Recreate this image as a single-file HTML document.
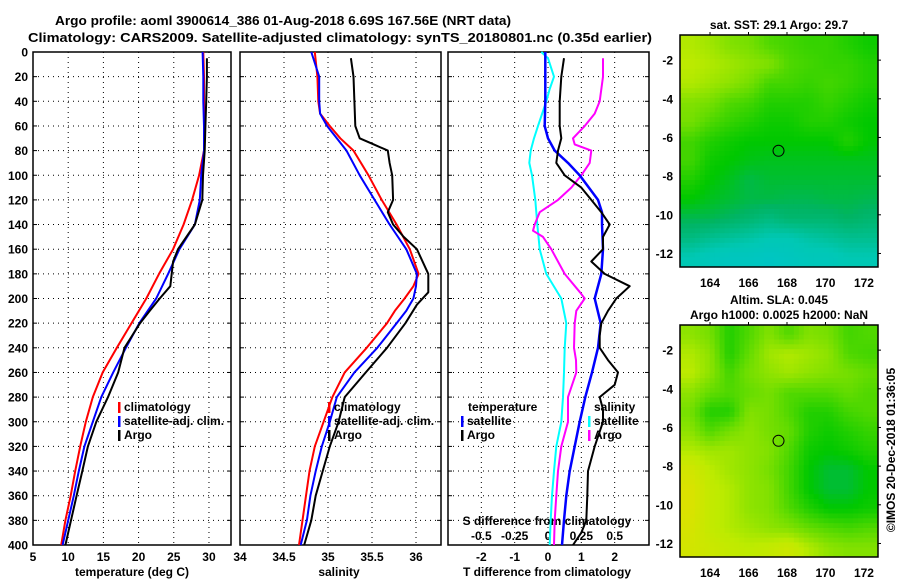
<!DOCTYPE html>
<html><head><meta charset="utf-8">
<style>
html,body{margin:0;padding:0;background:#fff;}
svg{display:block;font-family:"Liberation Sans",sans-serif;font-weight:bold;}
</style></head>
<body>
<svg id="fig" width="900" height="580" viewBox="0 0 900 580" xmlns="http://www.w3.org/2000/svg">
<text x="283" y="25" text-anchor="middle" font-size="13" textLength="456" lengthAdjust="spacingAndGlyphs">Argo profile: aoml 3900614_386 01-Aug-2018 6.69S 167.56E (NRT data)</text>
<text x="340" y="42" text-anchor="middle" font-size="13" textLength="624" lengthAdjust="spacingAndGlyphs">Climatology: CARS2009. Satellite-adjusted climatology: synTS_20180801.nc (0.35d earlier)</text>
<g id="plots"></g>
</svg>
<script>
// ---- data ----
const depthT = [0,20,40,60,80,100,120,140,160,180,200,220,240,260,280,300,320,340,360,380,400];
const tempClim = [29.2,29.3,29.3,29.3,29.3,28.6,27.6,26.4,24.9,22.9,21.1,19.0,16.9,14.9,13.5,12.5,11.7,11.0,10.35,9.6,9.0];
const tempSat  = [29.1,29.2,29.2,29.3,29.3,28.9,28.7,28.0,25.8,24.2,22.5,20.1,18.2,16.4,14.7,13.5,12.3,11.5,10.8,10.0,9.2];
const depthArgoT = [5,20,40,60,80,100,120,140,160,170,180,190,200,210,220,240,260,280,300,320,340,360,380,400];
const tempArgo = [29.7,29.7,29.6,29.5,29.4,29.15,29.05,28.0,25.6,24.9,24.7,24.5,23.0,21.6,20.2,18.0,17.1,15.65,14.0,12.8,12.0,11.2,10.4,9.6];
const depthS = [0,20,40,50,60,70,80,100,120,140,160,180,190,200,210,220,240,260,280,300,320,340,360,380,400];
const salClim = [34.85,34.88,34.89,34.91,35.02,35.14,35.29,35.46,35.61,35.78,35.93,36.03,35.97,35.87,35.76,35.67,35.44,35.19,35.05,34.95,34.85,34.79,34.75,34.71,34.67];
const salSat  = [34.81,34.90,34.90,34.91,34.99,35.10,35.21,35.36,35.53,35.70,35.89,36.01,36.0,35.97,35.89,35.78,35.56,35.30,35.10,35.02,34.93,34.86,34.80,34.76,34.69];
const depthArgoS = [5,20,40,60,70,75,80,90,100,120,130,140,150,160,180,195,205,220,240,260,280,300,320,340,360,380,400];
const salArgo = [35.26,35.29,35.30,35.31,35.36,35.52,35.68,35.70,35.73,35.74,35.68,35.74,35.86,36.01,36.14,36.14,36.01,35.88,35.67,35.43,35.19,35.12,35.02,34.94,34.86,34.81,34.73];
const depthD = [0,20,40,60,70,80,90,100,120,130,140,160,180,200,220,240,260,280,300,320,340,360,380,400];
const dTsat = [-0.08,-0.08,-0.08,-0.1,0.0,0.2,0.6,0.95,1.5,1.62,1.62,1.65,1.6,1.4,1.58,1.5,1.32,1.12,0.95,0.8,0.65,0.55,0.48,0.42];
const depthDTA = [5,20,40,60,70,80,90,100,110,120,130,140,150,160,170,180,190,200,210,220,230,240,250,260,270,280,290,300,320,340,360,380,390,400];
const dTargo = [0.48,0.4,0.35,0.35,0.4,0.3,0.25,0.5,1.0,1.3,1.6,1.85,1.65,1.65,1.3,1.7,2.45,2.05,1.8,1.6,1.55,1.55,1.8,2.1,2.0,1.55,1.65,1.65,1.4,1.2,1.18,1.15,1.0,0.75];
const depthDS = [0,5,20,30,40,60,70,80,90,100,120,140,160,180,200,220,240,260,280,300,320,340,360,380,400];
const dSsat = [-0.05,0.0,0.045,0.0125,-0.0125,-0.075,-0.105,-0.13,-0.14,-0.12,-0.095,-0.08,-0.0625,-0.0125,0.1,0.1375,0.125,0.12,0.1125,0.1,0.0625,0.045,0.03,0.02,0.0125];
const depthDSA = [5,20,40,50,60,70,75,80,90,100,110,120,130,140,145,150,160,180,195,200,210,220,240,250,260,280,300,320,340,360,380,400];
const dSargo = [0.4125,0.4125,0.3875,0.35,0.275,0.1875,0.2,0.325,0.3125,0.25,0.175,0.075,-0.0625,-0.1,-0.1125,-0.0375,0.025,0.125,0.24,0.275,0.2125,0.2,0.195,0.21,0.2125,0.15,0.15,0.1,0.075,0.0625,0.05,0.045];
const depthTicks = [0,20,40,60,80,100,120,140,160,180,200,220,240,260,280,300,320,340,360,380,400];
const tempTicks = [5,10,15,20,25,30];
const salTicks = [34,34.5,35,35.5,36];
const diffTicks = [-2,-1,0,1,2];
const sDiffTicks = [-0.5,-0.25,0,0.25,0.5];
const lonTicks = [164,166,168,170,172];
const latTicks = [-2,-4,-6,-8,-10,-12];
const sstGrid = [
[0.78,0.75,0.7,0.68,0.62,0.6,0.58,0.58,0.55,0.52],
[0.8,0.78,0.75,0.72,0.7,0.62,0.6,0.58,0.58,0.55],
[0.78,0.75,0.72,0.68,0.6,0.6,0.58,0.6,0.58,0.55],
[0.7,0.68,0.62,0.6,0.55,0.55,0.55,0.58,0.55,0.52],
[0.68,0.62,0.58,0.55,0.52,0.52,0.55,0.55,0.52,0.5],
[0.6,0.55,0.52,0.5,0.5,0.5,0.5,0.5,0.55,0.5],
[0.6,0.52,0.5,0.48,0.47,0.47,0.47,0.47,0.47,0.47],
[0.55,0.5,0.47,0.43,0.45,0.45,0.45,0.45,0.45,0.45],
[0.5,0.47,0.45,0.43,0.43,0.42,0.42,0.43,0.43,0.42],
[0.42,0.42,0.4,0.38,0.35,0.38,0.38,0.38,0.4,0.38],
[0.35,0.32,0.3,0.28,0.25,0.25,0.28,0.3,0.32,0.32],
[0.25,0.22,0.2,0.2,0.18,0.2,0.22,0.22,0.25,0.25]];
const slaGrid = [
[0.72,0.68,0.55,0.62,0.7,0.62,0.7,0.68,0.6,0.62],
[0.78,0.72,0.55,0.65,0.75,0.78,0.75,0.72,0.62,0.6],
[0.8,0.72,0.6,0.68,0.72,0.75,0.72,0.7,0.68,0.65],
[0.72,0.65,0.62,0.65,0.68,0.62,0.62,0.62,0.65,0.62],
[0.68,0.55,0.55,0.7,0.68,0.62,0.55,0.55,0.6,0.62],
[0.72,0.62,0.68,0.72,0.68,0.65,0.55,0.52,0.55,0.58],
[0.78,0.75,0.75,0.72,0.7,0.62,0.52,0.5,0.52,0.55],
[0.88,0.8,0.75,0.72,0.68,0.6,0.5,0.45,0.45,0.5],
[0.92,0.82,0.78,0.72,0.7,0.6,0.5,0.45,0.45,0.5],
[0.92,0.82,0.78,0.72,0.7,0.62,0.55,0.5,0.5,0.52],
[0.9,0.82,0.78,0.75,0.72,0.7,0.65,0.62,0.6,0.62],
[0.88,0.85,0.82,0.8,0.82,0.85,0.78,0.72,0.7,0.7]];
const argoLon = 167.56, argoLat = -6.69;

// ---- rendering ----
const NS = "http://www.w3.org/2000/svg";
const root = document.getElementById('plots');
function mk(tag, attrs, parent, text){
  const e = document.createElementNS(NS, tag);
  for (const k in attrs) e.setAttribute(k, attrs[k]);
  if (text !== undefined) e.textContent = text;
  (parent||root).appendChild(e);
  return e;
}
const Y0 = 52, Y1 = 545;
const yD = d => Y0 + (d/400)*(Y1-Y0);
function panel(name, x0, x1, vmin, vmax, ticks, gridTicks){
  const g = mk('g', {});
  
  
  const sx = v => x0 + (v-vmin)/(vmax-vmin)*(x1-x0);
  depthTicks.forEach(d => {
    if (d>0 && d<400) {
      const l = mk('line', {x1:x0, x2:x1, y1:yD(d), y2:yD(d), stroke:'#000', 'stroke-width':1, 'stroke-dasharray':'1,4'}, g);
      
      
    }
    mk('line', {x1:x0, x2:x0+4, y1:yD(d), y2:yD(d), stroke:'#000'}, g);
    mk('line', {x1:x1-4, x2:x1, y1:yD(d), y2:yD(d), stroke:'#000'}, g);
  });
  gridTicks.forEach(v => {
    const l = mk('line', {x1:sx(v), x2:sx(v), y1:Y0, y2:Y1, stroke:'#000', 'stroke-width':1, 'stroke-dasharray':'1,4'}, g);
    
    
  });
  const r = mk('rect', {x:x0, y:Y0, width:x1-x0, height:Y1-Y0, fill:'none', stroke:'#000', 'stroke-width':1.5}, g);
  
  
  return {g, sx};
}
function line(p, xs, ds, color, name, w){
  const pts = xs.map((v,i) => p.sx(v).toFixed(1)+','+yD(ds[i]).toFixed(1)).join(' ');
  const pl = mk('polyline', {points:pts, fill:'none', stroke:color, 'stroke-width':w||2, 'stroke-linejoin':'round'}, p.g);
  
  
}
function txt(x, y, s, opts, parent, name){
  const a = Object.assign({x:x, y:y, 'font-size':12}, opts||{});
  const t = mk('text', a, parent, s);
  
  
  return t;
}
function legend(parent, x, y, color, label, name){
  const l = mk('rect', {x:x, y:y-9, width:2.5, height:11, fill:color}, parent);
  
  
  return txt(x+6, y, label, {'font-size':12}, parent, name);
}
// Panel 1: temperature
const p1 = panel('temperature-panel', 33, 231, 5, 33.13, tempTicks, [10,15,20,25,30]);
depthTicks.forEach(d => txt(28, yD(d)+4.5, String(d), {'text-anchor':'end','font-size':12}, p1.g, 'depth-tick-label'));
tempTicks.forEach(v => txt(p1.sx(v), 561, String(v), {'text-anchor':'middle','font-size':12}, p1.g, 'temp-tick-label'));
txt(132, 576, 'temperature (deg C)', {'text-anchor':'middle','font-size':12}, p1.g, 'temp-axis-title');
line(p1, tempClim, depthT, '#f00', 'temp-climatology-line');
line(p1, tempSat, depthT, '#00f', 'temp-satellite-line');
line(p1, tempArgo, depthArgoT, '#000', 'temp-argo-line');
legend(p1.g, 118, 411, '#f00', 'climatology', 'legend-climatology');
legend(p1.g, 118, 425, '#00f', 'satellite-adj. clim.', 'legend-satellite');
legend(p1.g, 118, 439, '#000', 'Argo', 'legend-argo');
// Panel 2: salinity
const p2 = panel('salinity-panel', 240, 441, 34, 36.284, salTicks, [34.5,35,35.5,36]);
salTicks.forEach(v => txt(p2.sx(v), 561, String(v), {'text-anchor':'middle','font-size':12}, p2.g, 'sal-tick-label'));
txt(339, 576, 'salinity', {'text-anchor':'middle','font-size':12}, p2.g, 'sal-axis-title');
line(p2, salClim, depthS, '#f00', 'sal-climatology-line');
line(p2, salSat, depthS, '#00f', 'sal-satellite-line');
line(p2, salArgo, depthArgoS, '#000', 'sal-argo-line');
legend(p2.g, 328, 411, '#f00', 'climatology', 'legend-sal-climatology');
legend(p2.g, 328, 425, '#00f', 'satellite-adj. clim.', 'legend-sal-satellite');
legend(p2.g, 328, 439, '#000', 'Argo', 'legend-sal-argo');
// Panel 3: differences
const p3 = panel('difference-panel', 448, 649, -3, 3.03, diffTicks, diffTicks);
diffTicks.forEach(v => txt(p3.sx(v), 561, String(v), {'text-anchor':'middle','font-size':12}, p3.g, 'tdiff-tick-label'));
txt(547, 576, 'T difference from climatology', {'text-anchor':'middle','font-size':12}, p3.g, 'tdiff-axis-title');
txt(547, 525, 'S difference from climatology', {'text-anchor':'middle','font-size':12}, p3.g, 'sdiff-axis-title');
sDiffTicks.forEach(v => txt(p3.sx(v*4), 540, String(v), {'text-anchor':'middle','font-size':12}, p3.g, 'sdiff-tick-label'));
line(p3, dSsat.map(v=>v*4), depthDS, '#0ff', 'sdiff-satellite-line');
line(p3, dSargo.map(v=>v*4), depthDSA, '#f0f', 'sdiff-argo-line');
line(p3, dTsat, depthD, '#00f', 'tdiff-satellite-line', 2.5);
line(p3, dTargo, depthDTA, '#000', 'tdiff-argo-line');
txt(468, 411, 'temperature', {'font-size':12}, p3.g, 'legend-temperature-heading');
legend(p3.g, 461, 425, '#00f', 'satellite', 'legend-tdiff-satellite');
legend(p3.g, 461, 439, '#000', 'Argo', 'legend-tdiff-argo');
txt(594, 411, 'salinity', {'font-size':12}, p3.g, 'legend-salinity-heading');
legend(p3.g, 588, 425, '#0ff', 'satellite', 'legend-sdiff-satellite');
legend(p3.g, 588, 439, '#f0f', 'Argo', 'legend-sdiff-argo');

// maps
const stops = [[0,[0,190,230]],[0.25,[0,200,180]],[0.4,[0,180,100]],[0.5,[0,200,0]],[0.65,[100,220,0]],[0.8,[190,235,0]],[1,[240,220,0]]];
function cmap(v){
  for (let i=1;i<stops.length;i++){
    if (v<=stops[i][0]){
      const a=stops[i-1], b=stops[i], t=(v-a[0])/(b[0]-a[0]);
      const c=a[1].map((x,k)=>Math.round(x+(b[1][k]-x)*t));
      return 'rgb('+c.join(',')+')';
    }
  }
  return 'rgb(240,220,0)';
}
function sample(grid, fr, fc){
  const rows = grid.length, cols = grid[0].length;
  const r = Math.max(0, Math.min(rows-1, fr)), c = Math.max(0, Math.min(cols-1, fc));
  const r0 = Math.floor(r), c0 = Math.floor(c);
  const r1 = Math.min(rows-1, r0+1), c1 = Math.min(cols-1, c0+1);
  const tr = r-r0, tc = c-c0;
  const top = grid[r0][c0]*(1-tc)+grid[r0][c1]*tc;
  const bot = grid[r1][c0]*(1-tc)+grid[r1][c1]*tc;
  return top*(1-tr)+bot*tr;
}
function map(name, top, grid, titleLines){
  const g = mk('g', {});
  
  
  const x0=680, x1=878, bot=top+232;
  const lonMin=162.44, lonMax=172.73, latTop=-0.7, latBot=-12.7;
  const sx = lon => x0+(lon-lonMin)/(lonMax-lonMin)*(x1-x0);
  const sy = lat => top+(latTop-lat)/(latTop-latBot)*(bot-top);
  const rows = grid.length, cols = grid[0].length;
  const sub = 4;
  const cw = (x1-x0)/(cols*sub), ch = (bot-top)/(rows*sub);
  for (let r=0; r<rows*sub; r++) for (let c=0; c<cols*sub; c++){
    const v = sample(grid, (r+0.5)/sub-0.5, (c+0.5)/sub-0.5);
    const cell = mk('rect', {x:(x0+c*cw).toFixed(2), y:(top+r*ch).toFixed(2), width:(cw+0.5).toFixed(2), height:(ch+0.5).toFixed(2), fill:cmap(v)}, g);
    
    
  }
  const fr = mk('rect', {x:x0, y:top, width:x1-x0, height:bot-top, fill:'none', stroke:'#000', 'stroke-width':1.5}, g);
  
  
  const c = mk('circle', {cx:sx(argoLon), cy:sy(argoLat), r:5.5, fill:'none', stroke:'#000', 'stroke-width':1}, g);
  
  
  lonTicks.forEach(l => {
    mk('line', {x1:sx(l), x2:sx(l), y1:top-3, y2:top, stroke:'#000'}, g);
    txt(sx(l), bot+20, String(l), {'text-anchor':'middle','font-size':12}, g, 'lon-tick-label');
  });
  latTicks.forEach(l => {
    mk('line', {x1:x1, x2:x1+3, y1:sy(l), y2:sy(l), stroke:'#000'}, g);
    txt(673, sy(l)+4.5, String(l), {'text-anchor':'end','font-size':12}, g, 'lat-tick-label');
  });
  titleLines.forEach((s, i) => txt(779, top-(titleLines.length-1-i)*15-6, s, {'text-anchor':'middle','font-size':12}, g, 'map-title'));
}
map('sst-map', 35, sstGrid, ['sat. SST: 29.1 Argo: 29.7']);
map('sla-map', 325, slaGrid, ['Altim. SLA: 0.045','Argo h1000: 0.0025 h2000: NaN']);
txt(0, 0, '©IMOS 20-Dec-2018 01:36:05', {'text-anchor':'middle','font-size':12, transform:'translate(895,450) rotate(-90)'}, root, 'imos-credit');
</script>
</body></html>
